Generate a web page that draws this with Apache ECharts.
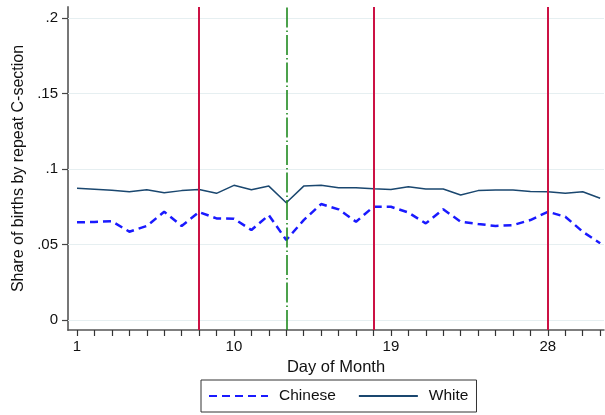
<!DOCTYPE html>
<html>
<head>
<meta charset="utf-8">
<script src="https://cdn.jsdelivr.net/npm/echarts@6/dist/echarts.min.js"></script>
<style>html,body{margin:0;padding:0;background:#fff}#c{width:605px;height:415px}</style>
</head>
<body>
<div id="c"></div>
<script>
const days = [1,2,3,4,5,6,7,8,9,10,11,12,13,14,15,16,17,18,19,20,21,22,23,24,25,26,27,28,29,30,31];
const chinese = [0.0647,0.0650,0.0654,0.0585,0.0623,0.0717,0.0623,0.0715,0.0673,0.0671,0.0596,0.0695,0.0530,0.0662,0.0768,0.0733,0.0651,0.0750,0.0750,0.0712,0.0640,0.0733,0.0651,0.0636,0.0623,0.0629,0.0662,0.0717,0.0684,0.0585,0.0508];
const white = [0.0872,0.0866,0.0859,0.0850,0.0863,0.0843,0.0857,0.0865,0.0839,0.0892,0.0863,0.0887,0.0777,0.0887,0.0892,0.0876,0.0876,0.0870,0.0865,0.0883,0.0868,0.0868,0.0828,0.0857,0.0861,0.0861,0.0852,0.0850,0.0839,0.0850,0.0806];
const xLabelDays = [1,10,19,28];
const yTicks = [0,0.05,0.1,0.15,0.2];
const redLineDays = [8,18,28];
const greenLineDays = [13];

const font = 'Liberation Sans, Arial, sans-serif';
const chart = echarts.init(document.getElementById('c'), null, {renderer:'canvas'});
const fmtY = v => v === 0 ? '0' : String(v).replace(/^0\./, '.');

chart.setOption({
  backgroundColor: '#fff',
  animation: false,
  grid: {left: 68, right: 1, top: 7, bottom: 85},
  xAxis: {
    type: 'value', min: 0.484, max: 31.22,
    name: 'Day of Month', nameLocation: 'middle', nameGap: 23,
    nameTextStyle: {fontFamily: font, fontSize: 16.5, color: '#111'},
    axisLine: {show: true, onZero: false, lineStyle: {color: '#555', width: 1.5}},
    axisTick: {show: true, length: 6, customValues: days, lineStyle: {color: '#333', width: 1.2}},
    axisLabel: {customValues: xLabelDays, margin: 9, fontFamily: font, fontSize: 15, color: '#111'},
    splitLine: {show: false}
  },
  yAxis: {
    type: 'value', min: -0.0066, max: 0.2073,
    name: 'Share of births by repeat C-section', nameLocation: 'middle', nameGap: 41,
    nameTextStyle: {fontFamily: font, fontSize: 16, color: '#111'},
    axisLine: {show: true, onZero: false, lineStyle: {color: '#777', width: 2}},
    axisTick: {show: true, length: 6, customValues: yTicks, lineStyle: {color: '#444', width: 1.2}},
    axisLabel: {customValues: yTicks, margin: 10, fontFamily: font, fontSize: 15, color: '#111', formatter: fmtY},
    splitLine: {show: false}
  },
  legend: {
    data: ['Chinese', 'White'],
    left: 201, top: 380,
    orient: 'horizontal',
    borderColor: '#333', borderWidth: 1, backgroundColor: '#fff',
    padding: [8, 8, 8, 7],
    itemWidth: 59, itemHeight: 14, itemGap: 22,
    itemStyle: {opacity: 0},
    textStyle: {fontFamily: font, fontSize: 15.5, color: '#111', padding: [0, 0, 0, 6]}
  },
  series: [
    {
      name: 'grid', type: 'line', data: [], z: 0, silent: true,
      markLine: {
        silent: true, symbol: 'none', label: {show: false},
        lineStyle: {color: '#e6eff1', width: 1, type: 'solid'},
        data: yTicks.map(v => ({yAxis: v}))
      }
    },
    {
      name: 'White', type: 'line', z: 3,
      data: days.map((d, i) => [d, white[i]]),
      symbol: 'none', smooth: false,
      lineStyle: {color: '#1a476f', width: 1.5, type: 'solid'},
      itemStyle: {color: '#1a476f'}
    },
    {
      name: 'Chinese', type: 'line', z: 3,
      data: days.map((d, i) => [d, chinese[i]]),
      symbol: 'none', smooth: false,
      lineStyle: {color: '#1a1aff', width: 2.5, type: [8, 5]},
      itemStyle: {color: '#1a1aff'},
      markLine: {
        silent: true, symbol: 'none', label: {show: false},
        data: redLineDays.map(d => ({xAxis: d, lineStyle: {color: '#cc1144', width: 2, type: 'solid'}}))
          .concat(greenLineDays.map(d => ({xAxis: d, lineStyle: {color: '#208a20', width: 1.6, type: [20, 3, 1.5, 3]}})))
      }
    }
  ]
});
</script>
</body>
</html>
